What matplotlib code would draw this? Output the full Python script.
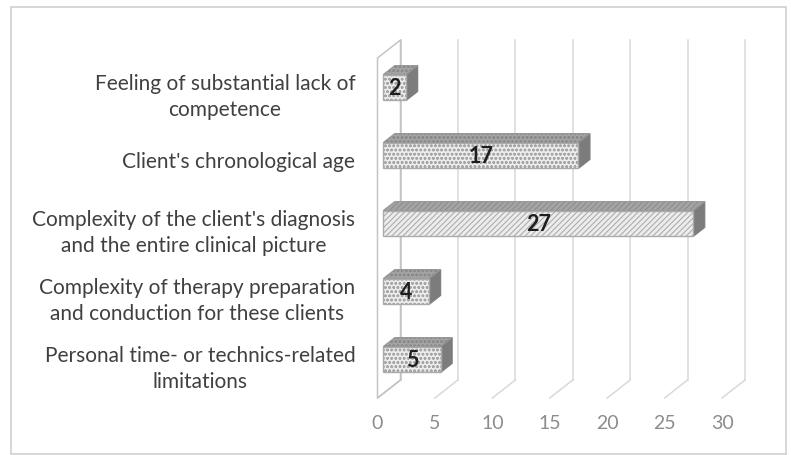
import matplotlib
matplotlib.use("Agg")
import matplotlib.pyplot as plt
from matplotlib.patches import Polygon, Rectangle

categories = [
    "Feeling of substantial lack of\ncompetence",
    "Client's chronological age",
    "Complexity of the client's diagnosis\nand the entire clinical picture",
    "Complexity of therapy preparation\nand conduction for these clients",
    "Personal time- or technics-related\nlimitations",
]
values = [2, 17, 27, 4, 5]
hatches = ["oooo", "oooo", "//////", "oooo", "oooo"]
xticks = [0, 5, 10, 15, 20, 25, 30]

plt.rcParams['font.family'] = ['Lato', 'DejaVu Sans']
plt.rcParams['hatch.linewidth'] = 0.7

W, H = 791, 455
fig = plt.figure(figsize=(W / 100, H / 100), dpi=100)
fig.patch.set_facecolor('white')
# outer frame
fig.add_artist(Rectangle((11 / W, 1 - 454 / H), (786 - 11) / W, (454 - 7) / H,
                         transform=fig.transFigure, fill=False,
                         edgecolor='#d0d0d0', linewidth=1.2))

left_px, right_px, top_px, bot_px = 377.5, 722.0, 58.0, 398.0
ax = fig.add_axes([left_px / W, 1 - bot_px / H, (right_px - left_px) / W, (bot_px - top_px) / H])
ax.set_xlim(0, 30)
ax.set_ylim(len(categories), 0)
ax.patch.set_alpha(0)
for s in ax.spines.values():
    s.set_visible(False)

DX = 23 / ((right_px - left_px) / 30)   # depth in data units (x)
DY = 18 / ((bot_px - top_px) / len(categories))  # depth in data units (y, upward)
n = len(categories)

wall_c = '#c4c4c4'
grid_c = '#d9d9d9'
# left wall
ax.add_patch(Polygon([(0, n), (0, 0), (DX, -DY), (DX, n - DY)], closed=True,
                     facecolor='white', edgecolor=wall_c, lw=1.1, clip_on=False, zorder=1))
# back wall gridlines & floor diagonals
for k in xticks:
    ax.plot([k + DX, k + DX], [-DY, n - DY], color=grid_c if k else wall_c, lw=1.1,
            clip_on=False, zorder=1.5)
    ax.plot([k, k + DX], [n, n - DY], color=grid_c if k else wall_c, lw=1.1,
            clip_on=False, zorder=1.5)

f0, f1 = 0.25, 0.75
bh = 0.38
for i, (v, h) in enumerate(zip(values, hatches)):
    cy = i + 0.5 - f0 * DY
    yt, yb = cy - bh / 2, cy + bh / 2
    x0 = f0 * DX
    x1 = v + f0 * DX
    ddx, ddy = (f1 - f0) * DX, (f1 - f0) * DY
    top = [(x0, yt), (x1, yt), (x1 + ddx, yt - ddy), (x0 + ddx, yt - ddy)]
    side = [(x1, yt), (x1, yb), (x1 + ddx, yb - ddy), (x1 + ddx, yt - ddy)]
    front = [(x0, yt), (x1, yt), (x1, yb), (x0, yb)]
    # top face
    ax.add_patch(Polygon(top, closed=True, facecolor='#a4a4a4', edgecolor='none', clip_on=False, zorder=3))
    ax.add_patch(Polygon(top, closed=True, facecolor='none', edgecolor='#8a8a8a', lw=0,
                         hatch=h, clip_on=False, zorder=3.1))
    ax.add_patch(Polygon(top, closed=True, facecolor='none', edgecolor='#989898', lw=0.8, clip_on=False, zorder=3.2))
    # side face
    ax.add_patch(Polygon(side, closed=True, facecolor='#7c7c7c', edgecolor='#7c7c7c', lw=0.8, clip_on=False, zorder=3))
    # front face
    ax.add_patch(Polygon(front, closed=True, facecolor='#ececec', edgecolor='none', clip_on=False, zorder=4))
    ax.add_patch(Polygon(front, closed=True, facecolor='none', edgecolor='#a6a6a6', lw=0,
                         hatch=h, clip_on=False, zorder=4.1))
    ax.add_patch(Polygon(front, closed=True, facecolor='none', edgecolor='#ababab', lw=1.0, clip_on=False, zorder=4.2))
    ax.text((x0 + x1) / 2, cy + 0.01, str(v), ha='center', va='center', fontsize=15.5,
            color='#1e1e1e', fontweight='bold', zorder=5)

ax.set_xticks(xticks)
ax.set_xticklabels([str(t) for t in xticks], color='#8c8c8c', fontsize=14)
ax.set_yticks([i + 0.5 for i in range(n)])
ax.set_yticklabels(categories, color='#404040', fontsize=15, linespacing=1.35)
for t in ax.get_yticklabels():
    t.set_multialignment('center')
ax.tick_params(axis='x', length=0, pad=12)
ax.tick_params(axis='y', length=0, pad=16)

fig.savefig('out.png', dpi=100, facecolor='white')
